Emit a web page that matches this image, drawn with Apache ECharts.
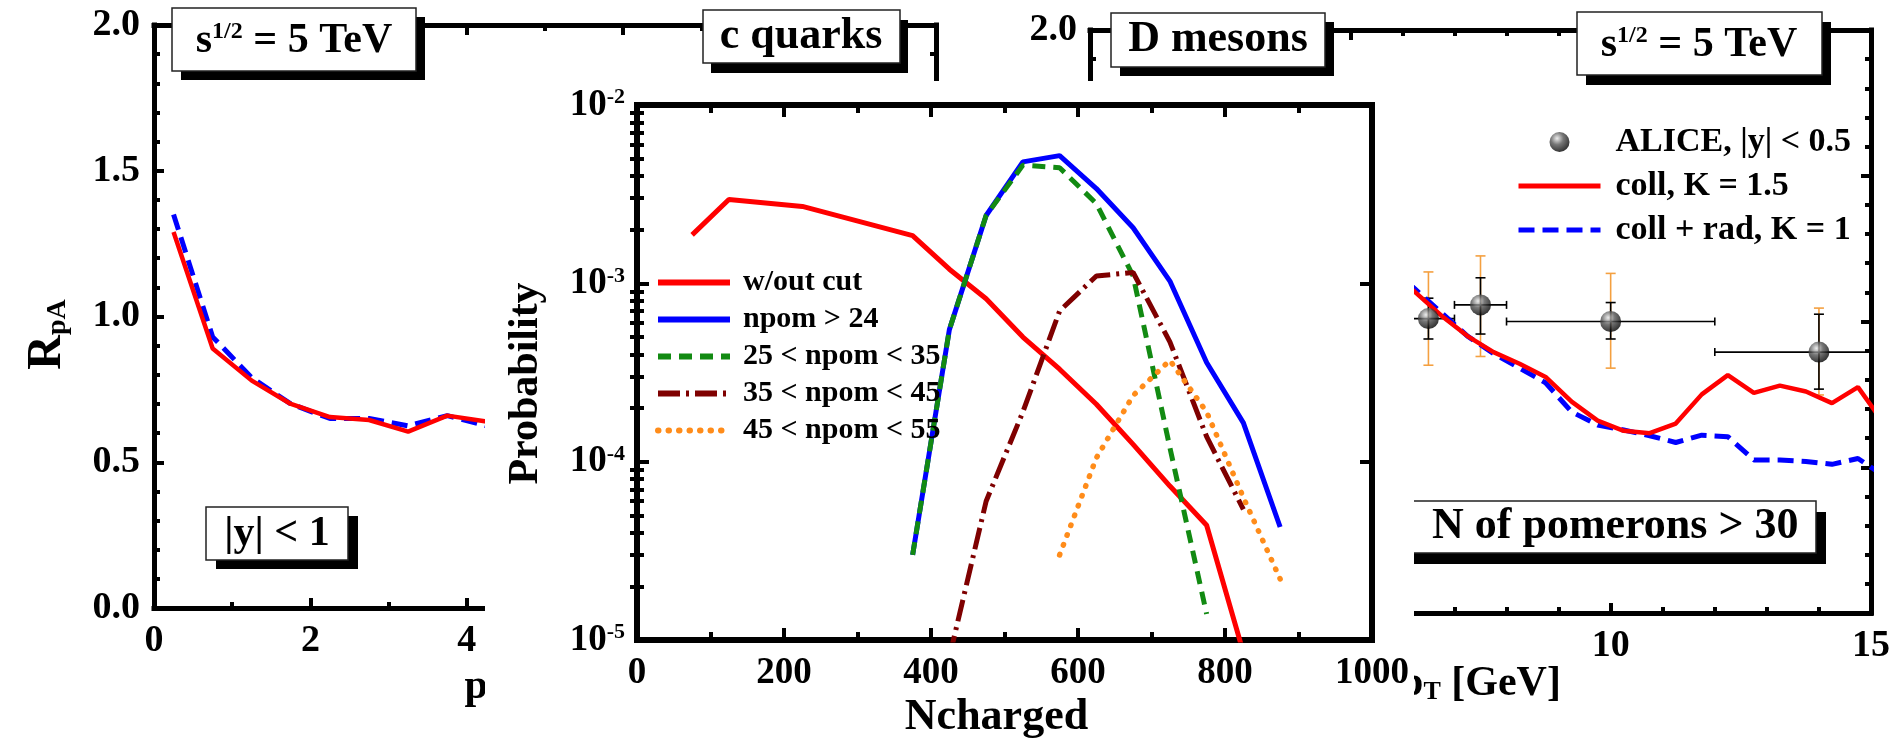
<!DOCTYPE html>
<html><head><meta charset="utf-8">
<script src="https://cdn.jsdelivr.net/npm/echarts@6/dist/echarts.min.js"></script>
<style>html,body{margin:0;padding:0;background:#fff}#c{width:1904px;height:739px}</style>
</head><body><div id="c"></div>
<script>
// ---------- c quarks panel (R_pA vs pT) ----------
const cqPt      = [0.25,0.75,1.25,1.75,2.25,2.75,3.25,3.75,4.25];
const cqColl    = [1.29,0.89,0.78,0.70,0.655,0.645,0.605,0.66,0.64];
const cqCollRad = [1.35,0.93,0.79,0.70,0.65,0.65,0.625,0.66,0.625];
// ---------- D mesons panel ----------
const dmPt      = [5.75,6.25,6.75,7.25,7.75,8.25,8.75,9.25,9.75,10.25,10.75,11.25,11.75,12.25,12.75,13.25,13.75,14.25,14.75,15.25];
const dmColl    = [1.18,1.10,1.02,0.95,0.895,0.855,0.81,0.725,0.66,0.625,0.617,0.65,0.75,0.816,0.755,0.78,0.76,0.72,0.775,0.65];
const dmCollRad = [1.19,1.11,1.03,0.95,0.89,0.84,0.79,0.69,0.645,0.628,0.608,0.585,0.61,0.605,0.525,0.525,0.52,0.51,0.53,0.47];
const alicePt     = [6.5,7.5,10,14];
const aliceR      = [1.01,1.057,1.0,0.895];
const alicePtLo   = [6,7,8,12];
const alicePtHi   = [7,8,12,16];
const aliceStatLo = [0.94,0.957,0.94,0.768];
const aliceStatHi = [1.08,1.15,1.065,1.025];
const aliceSysLo  = [0.85,0.88,0.84,0.748];
const aliceSysHi  = [1.17,1.225,1.165,1.046];
// ---------- Probability vs Ncharged ----------
const nchRed    = [75,125,225,375,425,475,525,575,625,675,725,775,825];
const pRed      = [1.87e-3,2.95e-3,2.7e-3,1.85e-3,1.2e-3,8.2e-4,5.0e-4,3.3e-4,2.1e-4,1.25e-4,7.3e-5,4.4e-5,8.5e-6];
const nchBlue   = [375,425,475,525,575,625,675,725,775,825,875];
const pBlue     = [3.0e-5,5.5e-4,2.4e-3,4.8e-3,5.2e-3,3.4e-3,2.05e-3,1.03e-3,3.6e-4,1.65e-4,4.3e-5];
const nchGreen  = [375,425,475,525,575,625,675,725,775];
const pGreen    = [3.0e-5,5.5e-4,2.4e-3,4.6e-3,4.45e-3,2.8e-3,1.1e-3,1.2e-4,1.4e-5];
const nchDark   = [425,475,525,575,625,675,725,775,825];
const pDark     = [8e-6,6.0e-5,1.9e-4,7.0e-4,1.1e-3,1.15e-3,4.7e-4,1.38e-4,5.4e-5];
const nchOrange = [575,625,675,725,775,825,875];
const pOrange   = [3.0e-5,1.05e-4,2.35e-4,3.7e-4,1.9e-4,6.3e-5,2.2e-5];
const centerNames = ['w/out cut','npom > 24','25 < npom < 35','35 < npom < 45','45 < npom < 55'];
const rightNames  = ['ALICE, |y| < 0.5','coll, K = 1.5','coll + rad, K = 1'];

const FONT = "'Liberation Serif','Times New Roman',serif";
const zip = (a,b) => a.map((v,i)=>[v,b[i]]);
const logMinor = [];
for (let e=-5; e<=-3; e++) for (let m=2; m<=9; m++) logMinor.push(m*Math.pow(10,e));

const AL = w => ({show:true, onZero:false, lineStyle:{color:'#000', width:w, cap:'square'}});
const AT = (len,w) => ({show:true, inside:true, length:len, lineStyle:{color:'#000', width:w}});
const MT = (n,len,w) => ({show:true, splitNumber:n, length:len, lineStyle:{color:'#000', width:w}});
const LBL = (size, margin, extra) => Object.assign({show:true, fontFamily:FONT, fontWeight:'bold', fontSize:size, color:'#000', margin:margin}, extra||{});
const NOLBL = {show:false};
const NS = {show:false};
const pRich = {
  p:{fontFamily:FONT, fontWeight:'bold', fontSize:42, color:'#000'},
  t:{fontFamily:FONT, fontWeight:'bold', fontSize:26, color:'#000', verticalAlign:'bottom'}
};

function valAxis(o){
  return Object.assign({type:'value', splitLine:NS, minorSplitLine:NS, nameMoveOverlap:false}, o);
}

const xAxis = [
  valAxis({gridIndex:0, position:'bottom', min:0, max:10, interval:2, axisLine:AL(5), axisTick:AT(10,4), minorTick:MT(2,6,4),
    axisLabel:LBL(38,14), name:'{p|p}{t|T}{p| [GeV]}', nameLocation:'middle', nameGap:58, nameTextStyle:{rich:pRich}}),
  valAxis({gridIndex:0, position:'top', min:0, max:10, interval:2, axisLine:AL(5), axisTick:AT(10,4), minorTick:MT(2,6,4), axisLabel:NOLBL}),
  valAxis({gridIndex:1, position:'bottom', min:0, max:15, interval:5, axisLine:AL(5), axisTick:AT(10,4), minorTick:MT(5,6,4),
    axisLabel:LBL(38,14), name:'{p|p}{t|T}{p| [GeV]}', nameLocation:'middle', nameGap:50, nameTextStyle:{rich:pRich}}),
  valAxis({gridIndex:1, position:'top', min:0, max:15, interval:5, axisLine:AL(5), axisTick:AT(10,4), minorTick:MT(5,6,4), axisLabel:NOLBL}),
  valAxis({gridIndex:2, position:'bottom', min:0, max:1000, interval:200, zlevel:2, axisLine:AL(6), axisTick:AT(12,4), minorTick:MT(2,8,4),
    axisLabel:LBL(37,15,{formatter:v=>String(v)}), name:'Ncharged', nameLocation:'middle', nameGap:56,
    nameTextStyle:{fontFamily:FONT, fontWeight:'bold', fontSize:44, color:'#000', padding:[0,16,0,0]}}),
  valAxis({gridIndex:2, position:'top', min:0, max:1000, interval:200, zlevel:2, axisLine:AL(6), axisTick:AT(12,4), minorTick:MT(2,8,4), axisLabel:NOLBL})
];

const logLabel = {
  show:true, margin:12,
  formatter: v => '{b|10}{s|' + Math.round(Math.log10(v)) + '}',
  rich:{
    b:{fontFamily:FONT, fontWeight:'bold', fontSize:37, color:'#000'},
    s:{fontFamily:FONT, fontWeight:'bold', fontSize:22, color:'#000', verticalAlign:'top'}
  }
};
function logAxis(o){
  return Object.assign({type:'log', logBase:10, min:1e-5, max:1e-2, gridIndex:2, zlevel:2, splitLine:NS, minorSplitLine:NS, nameMoveOverlap:false}, o);
}

const yAxis = [
  valAxis({gridIndex:0, position:'left', min:0, max:2, interval:0.5, axisLine:AL(5), axisTick:AT(10,4), minorTick:MT(5,6,4),
    axisLabel:LBL(38,14,{formatter:v=>v.toFixed(1)}),
    name:'{r|R}{s|pA}', nameLocation:'middle', nameGap:82, nameRotate:90,
    nameTextStyle:{padding:[0,36,0,0], rich:{
      r:{fontFamily:FONT, fontWeight:'bold', fontSize:48, color:'#000'},
      s:{fontFamily:FONT, fontWeight:'bold', fontSize:28, color:'#000', verticalAlign:'bottom'}}}}),
  valAxis({gridIndex:0, position:'right', min:0, max:2, interval:0.5, axisLine:AL(5), axisTick:AT(10,4), minorTick:MT(5,6,4), axisLabel:NOLBL}),
  valAxis({gridIndex:1, position:'left', min:0, max:2, interval:0.5, axisLine:AL(5), axisTick:AT(10,4), minorTick:MT(5,6,4),
    axisLabel:LBL(38,13,{formatter:v=>v.toFixed(1)})}),
  valAxis({gridIndex:1, position:'right', min:0, max:2, interval:0.5, axisLine:AL(5), axisTick:AT(10,4), minorTick:MT(5,6,4), axisLabel:NOLBL}),
  logAxis({position:'left', axisLine:AL(6), axisTick:AT(12,4), axisLabel:logLabel,
    name:'Probability', nameLocation:'middle', nameGap:90, nameRotate:90,
    nameTextStyle:{fontFamily:FONT, fontWeight:'bold', fontSize:42, color:'#000', padding:[0,22,0,0]}}),
  logAxis({position:'left', axisLine:{show:false}, axisTick:{show:true, inside:true, length:7, customValues:logMinor, lineStyle:{color:'#000', width:4}}, axisLabel:NOLBL}),
  logAxis({position:'right', axisLine:AL(6), axisTick:AT(12,4), axisLabel:NOLBL}),
  logAxis({position:'right', axisLine:{show:false}, axisTick:{show:true, inside:true, length:7, customValues:logMinor, lineStyle:{color:'#000', width:4}}, axisLabel:NOLBL})
];

function line(name, xi, yi, data, color, width, type, zl){
  return {type:'line', name, xAxisIndex:xi, yAxisIndex:yi, data, symbol:'none', clip:true, zlevel:zl||0,
    lineStyle:{color, width, type:type||'solid', cap:(Array.isArray(type)&&type[0]<2)?'round':'butt'}, itemStyle:{color}};
}

const aliceData = alicePt.map((p,i)=>[p, aliceR[i], alicePtLo[i], alicePtHi[i], aliceStatLo[i], aliceStatHi[i], aliceSysLo[i], aliceSysHi[i]]);

const series = [
  line('cq coll+rad', 0, 0, zip(cqPt,cqCollRad), '#0000ff', 5, [16,8]),
  line('cq coll', 0, 0, zip(cqPt,cqColl), '#ff0000', 4.5),
  line('coll + rad, K = 1', 2, 2, zip(dmPt,dmCollRad), '#0000ff', 5, [16,8]),
  line('coll, K = 1.5', 2, 2, zip(dmPt,dmColl), '#ff0000', 4.5),
  {type:'custom', name:'alice err', xAxisIndex:2, yAxisIndex:2, clip:true, z:3, data:aliceData,
   renderItem:(params, api)=>{
     const x=api.value(0), y=api.value(1);
     const c=api.coord([x,y]);
     const xl=api.coord([api.value(2),y]), xh=api.coord([api.value(3),y]);
     const sl=api.coord([x,api.value(4)]), sh=api.coord([x,api.value(5)]);
     const yl=api.coord([x,api.value(6)]), yh=api.coord([x,api.value(7)]);
     const L=(x1,y1,x2,y2,col)=>({type:'line', shape:{x1,y1,x2,y2}, style:{stroke:col, lineWidth:1.6}});
     const OR='#f4a040', BK='#000', cap=5;
     return {type:'group', children:[
       L(c[0],yl[1],c[0],yh[1],OR), L(c[0]-cap,yl[1],c[0]+cap,yl[1],OR), L(c[0]-cap,yh[1],c[0]+cap,yh[1],OR),
       L(c[0],sl[1],c[0],sh[1],BK), L(c[0]-cap,sl[1],c[0]+cap,sl[1],BK), L(c[0]-cap,sh[1],c[0]+cap,sh[1],BK),
       L(xl[0],c[1],xh[0],c[1],BK), L(xl[0],c[1]-4,xl[0],c[1]+4,BK), L(xh[0],c[1]-4,xh[0],c[1]+4,BK)
     ]};
   }},
  {type:'scatter', name:'ALICE, |y| < 0.5', xAxisIndex:2, yAxisIndex:2, z:4, symbol:'circle', symbolSize:21,
   data:zip(alicePt, aliceR),
   itemStyle:{color:{type:'radial', x:0.38, y:0.32, r:0.7, colorStops:[{offset:0,color:'#e8e8e8'},{offset:0.45,color:'#555'},{offset:1,color:'#000'}]}}},
  line('w/out cut', 4, 4, zip(nchRed,pRed), '#ff0000', 5, 'solid', 2),
  line('npom > 24', 4, 4, zip(nchBlue,pBlue), '#0000ff', 5, 'solid', 2),
  line('25 < npom < 35', 4, 4, zip(nchGreen,pGreen), '#128a12', 5, [13,8], 2),
  line('35 < npom < 45', 4, 4, zip(nchDark,pDark), '#7f0000', 5, [22,6,3,6], 2),
  line('45 < npom < 55', 4, 4, zip(nchOrange,pOrange), '#ff8c1a', 5.5, [0.5,10], 2)
];

// annotation boxes (white label with black drop shadow)
function box(x,y,w,h,dx,dy,text,rich,tx,ty,align){
  return [
    {type:'rect', z:100, shape:{x:x+dx,y:y+dy,width:w,height:h}, style:{fill:'#000'}},
    {type:'rect', z:101, shape:{x,y,width:w,height:h}, style:{fill:'#fff', stroke:'#222', lineWidth:1.5}},
    {type:'text', z:102, x:tx, y:ty, style:{text, rich, align:align||'center', verticalAlign:'middle'}}
  ];
}
const R = (size, extra) => Object.assign({fontFamily:FONT, fontWeight:'bold', fontSize:size, fill:'#000', color:'#000'}, extra||{});
const sRich = {a:R(42), b:R(24,{verticalAlign:'top'})};
const elements = [].concat(
  box(172,8,244,63,9,9,'{a|s}{b|1/2}{a| = 5 TeV}', sRich, 294, 41),
  box(703,10,197,53,8,10,'{a|c quarks}', {a:R(44)}, 801, 37),
  box(1111,13,214,54,9,9,'{a|D mesons}', {a:R(44)}, 1218, 40),
  box(1577,12,245,63,9,10,'{a|s}{b|1/2}{a| = 5 TeV}', sRich, 1699, 45),
  box(206,507,142,53,10,9,'{a||y| < 1}', {a:R(42)}, 277, 534),
  box(1400,501,416,52,10,11,'{a|N of pomerons > 30}', {a:R(44)}, 1432, 527, 'left'),
  [{type:'rect', zlevel:1, shape:{x:485,y:81,width:929,height:658}, style:{fill:'#fff'}}]
);

const option = {
  animation:false,
  backgroundColor:'#fff',
  grid:[
    {left:154, top:25, width:782, height:583, outerBoundsMode:'none', containLabel:false},
    {left:1090, top:30, width:781, height:583, outerBoundsMode:'none', containLabel:false},
    {left:637, top:105, width:735, height:535, outerBoundsMode:'none', containLabel:false}
  ],
  xAxis, yAxis, series,
  legend:[
    {zlevel:2, orient:'vertical', left:650, top:262, itemWidth:72, itemHeight:14, itemGap:6, selectedMode:false,
     data:centerNames.map(n=>({name:n, itemStyle:{opacity:0}})),
     lineStyle:{width:6},
     textStyle:{fontFamily:FONT, fontWeight:'bold', fontSize:30, color:'#000', lineHeight:31, padding:[0,0,0,8]}},
    {zlevel:0, orient:'vertical', left:1511, top:118, itemWidth:82, itemHeight:20, itemGap:6, selectedMode:false,
     data:[{name:rightNames[0]},{name:rightNames[1], itemStyle:{opacity:0}},{name:rightNames[2], itemStyle:{opacity:0}}],
     lineStyle:{width:5},
     textStyle:{fontFamily:FONT, fontWeight:'bold', fontSize:34, color:'#000', lineHeight:38, padding:[0,0,0,10]}}
  ],
  graphic:{elements}
};
const chart = echarts.init(document.getElementById('c'), null, {renderer:'canvas'});
chart.setOption(option);
</script></body></html>
